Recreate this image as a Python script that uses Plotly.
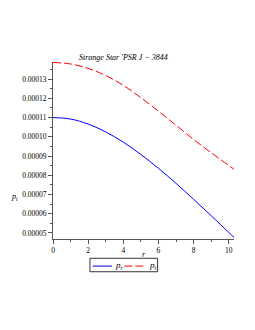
import plotly.graph_objects as go

r = [0, 1, 2, 3, 4, 5, 6, 7, 8, 9, 10, 10.3]
p_r = [1.100e-4, 1.092e-4, 1.066e-4, 1.025e-4, 0.972e-4, 0.908e-4, 0.836e-4,
       0.758e-4, 0.675e-4, 0.590e-4, 0.503e-4, 0.477e-4]
p_t = [1.386e-4, 1.378e-4, 1.355e-4, 1.318e-4, 1.267e-4, 1.203e-4, 1.133e-4,
       1.060e-4, 0.986e-4, 0.917e-4, 0.851e-4, 0.831e-4]
y_ticks = [5e-5, 6e-5, 7e-5, 8e-5, 9e-5, 10e-5, 11e-5, 12e-5, 13e-5]
y_labels = ["0.00005", "0.00006", "0.00007", "0.00008", "0.00009",
            "0.00010", "0.00011", "0.00012", "0.00013"]
x_ticks = [0, 2, 4, 6, 8, 10]
title = "Strange Star 'PSR J − 3844"
names = ["<i>p</i><sub><i>r</i></sub>", "<i>p</i><sub><i>t</i></sub>"]
colors = ["#0000ff", "#ff0000"]
dashes = ["solid", "8px,3px"]

FONT = "Liberation Serif"
AX = "#555555"

fig = go.Figure()
fig.add_trace(go.Scatter(x=r, y=p_r, mode="lines", name=names[0],
                         line=dict(color=colors[0], width=1, shape="spline")))
fig.add_trace(go.Scatter(x=r, y=p_t, mode="lines", name=names[1],
                         line=dict(color=colors[1], width=1, dash=dashes[1], shape="spline")))

# hand-built compact legend (box, line samples, labels) below the axes
shapes = [dict(type="rect", xref="paper", yref="paper", x0=0.204, x1=0.578,
               y0=-0.185, y1=-0.109, line=dict(color="#333333", width=1),
               fillcolor="white", layer="above")]
legend_lines = [(0.219, 0.326), (0.394, 0.499)]
legend_text_x = [0.333, 0.518]
annotations = []
for i in range(2):
    x0, x1 = legend_lines[i]
    shapes.append(dict(type="line", xref="paper", yref="paper", x0=x0, x1=x1,
                       y0=-0.153, y1=-0.153,
                       line=dict(color=colors[i], width=1, dash=dashes[i])))
    annotations.append(dict(text=names[i], x=legend_text_x[i], y=-0.149, xref="paper",
                            yref="paper", xanchor="left", yanchor="middle",
                            showarrow=False, font=dict(size=9, family=FONT)))

annotations += [
    dict(text="<i>" + title + "</i>", x=0.392, y=1.028, xref="paper", yref="paper",
         xanchor="center", yanchor="middle", showarrow=False,
         font=dict(size=8, family=FONT)),
    dict(text="<i>r</i>", x=0.5, y=-0.09, xref="paper", yref="paper",
         xanchor="center", yanchor="middle", showarrow=False,
         font=dict(size=8, family=FONT)),
    dict(text="<i>p</i><sub><i>t</i></sub>", x=-0.21, y=0.239, xref="paper", yref="paper",
         xanchor="center", yanchor="middle", showarrow=False,
         font=dict(size=8, family=FONT)),
]

fig.update_layout(
    width=247, height=322, autosize=False,
    margin=dict(l=45, r=21, t=54, b=91, pad=0),
    paper_bgcolor="white", plot_bgcolor="white",
    font=dict(family=FONT, size=7, color="black"),
    showlegend=False,
    xaxis=dict(range=[0, 10.3], showgrid=False, zeroline=False, showline=True,
               linecolor=AX, linewidth=1, ticks="outside", ticklen=4, tickcolor=AX,
               tickmode="array", tickvals=x_ticks,
               minor=dict(ticks="outside", ticklen=2, dtick=1, tick0=0, tickcolor=AX),
               tickfont=dict(size=7.5, family=FONT, color="black")),
    yaxis=dict(range=[4.688e-5, 1.3883e-4], showgrid=False, zeroline=False, showline=True,
               linecolor=AX, linewidth=1, ticks="outside", ticklen=4, tickcolor=AX,
               tickmode="array", tickvals=y_ticks, ticktext=y_labels,
               minor=dict(ticks="outside", ticklen=2, dtick=5e-6, tick0=0, tickcolor=AX),
               tickfont=dict(size=7.5, family=FONT, color="black")),
    shapes=shapes,
    annotations=annotations,
)

fig.write_html("out.html")
